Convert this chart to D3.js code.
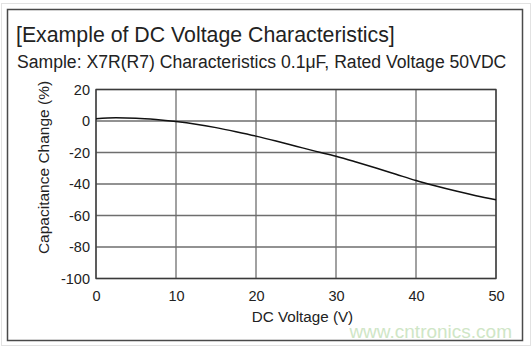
<!DOCTYPE html>
<html>
<head>
<meta charset="utf-8">
<script src="https://cdn.jsdelivr.net/npm/d3@7"></script>
<style>
  html, body { margin: 0; padding: 0; background: #fff; }
  svg { display: block; font-family: "Liberation Sans", Arial, sans-serif; }
</style>
</head>
<body>
<svg id="chart" width="532" height="347"></svg>
<script>
// DC bias characteristic of an X7R 0.1uF / 50VDC capacitor
const voltage = [0, 2.5, 5, 7.5, 10, 12.5, 15, 17.5, 20, 22.5, 25, 27.5, 30, 32.5, 35, 37.5, 40, 42.5, 45, 47.5, 50];
const capChange = [1.5, 2.0, 1.8, 1.0, -0.3, -2.0, -4.2, -6.8, -9.6, -12.7, -16.0, -19.3, -22.4, -26.0, -29.8, -33.8, -37.8, -41.3, -44.5, -47.4, -50.0];
const xTicks = [0, 10, 20, 30, 40, 50];
const yTicks = [20, 0, -20, -40, -60, -80, -100];

const titleText = "[Example of DC Voltage Characteristics]";
const subtitleText = "Sample: X7R(R7) Characteristics 0.1\u03bcF, Rated Voltage 50VDC";
const xLabel = "DC Voltage (V)";
const yLabel = "Capacitance Change (%)";
const siteText = "www.cntronics.com";

const svg = d3.select("#chart");
const plot = { left: 96, right: 496, top: 89.5, bottom: 278.5 };

// outer panel
svg.append("rect").attr("x", 1.5).attr("y", 3.5).attr("width", 529).attr("height", 342)
  .attr("fill", "none").attr("stroke", "#e2e2e2").attr("stroke-width", 1);
svg.append("rect").attr("x", 7.5).attr("y", 9.5).attr("width", 515).attr("height", 331)
  .attr("fill", "#fff").attr("stroke", "#4a4a4a").attr("stroke-width", 1.5);

svg.append("text").attr("x", 16).attr("y", 42).attr("font-size", 21.3).attr("fill", "#222")
  .text(titleText);
svg.append("text").attr("x", 17).attr("y", 68).attr("font-size", 17.6).attr("fill", "#222")
  .text(subtitleText);

const x = d3.scaleLinear().domain([0, 50]).range([plot.left, plot.right]);
const y = d3.scaleLinear().domain([-100, 20]).range([plot.bottom, plot.top]);

// grid
const grid = svg.append("g");
grid.selectAll("line.v").data(xTicks).join("line")
  .attr("x1", d => x(d)).attr("x2", d => x(d))
  .attr("y1", plot.top).attr("y2", plot.bottom)
  .attr("stroke", "#8a8a8a").attr("stroke-width", 1.6);
grid.selectAll("line.h").data(yTicks).join("line")
  .attr("x1", plot.left).attr("x2", plot.right)
  .attr("y1", d => y(d)).attr("y2", d => y(d))
  .attr("stroke", "#6e6e6e").attr("stroke-width", 1.4);

// tick labels via d3 axes (plain hyphen for negatives)
const fmt = d => String(d);
const xAxis = svg.append("g").attr("transform", `translate(0,${plot.bottom})`)
  .call(d3.axisBottom(x).tickValues(xTicks).tickFormat(fmt).tickSize(0).tickPadding(12));
const yAxis = svg.append("g").attr("transform", `translate(${plot.left},0)`)
  .call(d3.axisLeft(y).tickValues(yTicks).tickFormat(fmt).tickSize(0).tickPadding(6));
[xAxis, yAxis].forEach(a => {
  a.select(".domain").remove();
  a.selectAll("text").attr("font-size", 14.5).attr("fill", "#222")
    .attr("font-family", "'Liberation Sans', Arial, sans-serif");
});

// plot border
svg.append("rect").attr("x", plot.left).attr("y", plot.top)
  .attr("width", plot.right - plot.left).attr("height", plot.bottom - plot.top)
  .attr("fill", "none").attr("stroke", "#3a3a3a").attr("stroke-width", 1.3);

// curve
const pts = voltage.map((v, i) => [v, capChange[i]]);
svg.append("path").datum(pts)
  .attr("d", d3.line().x(d => x(d[0])).y(d => y(d[1])).curve(d3.curveMonotoneX))
  .attr("fill", "none").attr("stroke", "#111").attr("stroke-width", 1.5);

svg.append("text").attr("x", 302.5).attr("y", 322)
  .attr("text-anchor", "middle").attr("font-size", 15.2).attr("fill", "#222").text(xLabel);
svg.append("text").attr("transform", "translate(48.5,167.5) rotate(-90)")
  .attr("text-anchor", "middle").attr("font-size", 15.5).attr("fill", "#222").text(yLabel);

svg.append("text").attr("x", 512).attr("y", 338).attr("text-anchor", "end")
  .attr("font-size", 19).attr("fill", "#cfe6c6").text(siteText);
</script>
</body>
</html>
